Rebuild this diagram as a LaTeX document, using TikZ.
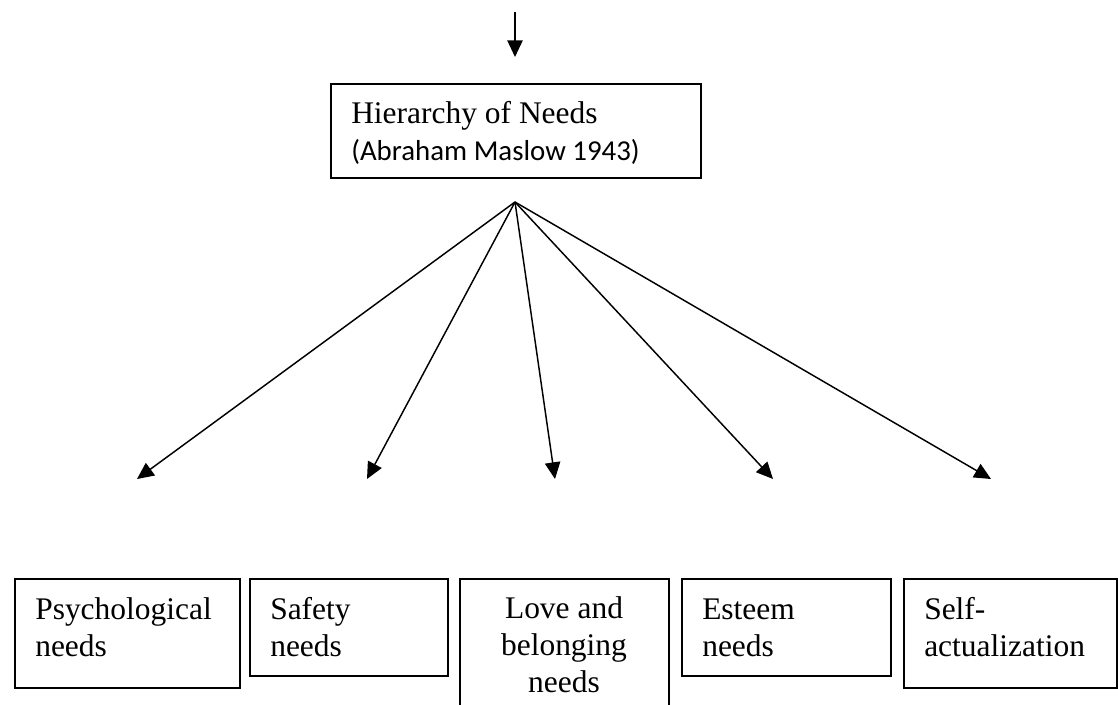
\documentclass[tikz,border=0pt]{standalone}
\usepackage{fontspec}
\setmainfont{Liberation Serif}
\newfontfamily\calfont{Carlito}
\usetikzlibrary{arrows.meta}
\begin{document}
\begin{tikzpicture}[x=0.75pt,y=-0.75pt,
  box/.style={draw,line width=1.3pt,rectangle,inner sep=0pt,anchor=north west},
  lbl/.style={inner sep=0pt,anchor=base west,align=left,font=\fontsize{23.6}{27.75}\selectfont},
  clbl/.style={inner sep=0pt,anchor=base,align=center,font=\fontsize{23.6}{27.75}\selectfont},
  arr/.style={line width=1.1pt,-{Triangle[length=12.5pt,width=11.5pt]}}]
\useasboundingbox (0,0) rectangle (1118,704);
\fill[white] (0,0) rectangle (1118,704);
\clip (0,0) rectangle (1118,704);

% boxes
\node[box,minimum width=370*0.75pt,minimum height=94*0.75pt] (top) at (330,83) {};
\node[box,minimum width=225*0.75pt,minimum height=109*0.75pt] (b1) at (14,578) {};
\node[box,minimum width=198*0.75pt,minimum height=97*0.75pt] (b2) at (249,578) {};
\node[box,minimum width=209*0.75pt,minimum height=160*0.75pt] (b3) at (459,578) {};
\node[box,minimum width=209*0.75pt,minimum height=97*0.75pt] (b4) at (681,578) {};
\node[box,minimum width=213*0.75pt,minimum height=109*0.75pt] (b5) at (903,578) {};

% texts (base anchor = baseline of the last line)
\node[lbl] (ttop) at (351,160) {Hierarchy of Needs\\{\calfont\fontsize{21.65}{27.75}\selectfont (Abraham Maslow 1943)}};
\node[lbl] (t1) at (35,656) {Psychological\\needs};
\node[lbl] (t2) at (270,656) {Safety\\needs};
\node[clbl] (t3) at (564,692) {Love and\\belonging\\needs};
\node[lbl] (t4) at (702,656) {Esteem\\needs};
\node[lbl] (t5) at (924,656) {Self-\\actualization};

% connectors
\coordinate (in) at (515,12);
\coordinate (inTip) at (515,57);
\draw[arr] (in) -- (inTip);
\coordinate (apex) at (515,202);
\coordinate (p1) at (137,479);
\coordinate (p2) at (367,479);
\coordinate (p3) at (555,479);
\coordinate (p4) at (773,479);
\coordinate (p5) at (991,479);
\foreach \p in {p1,p2,p3,p4,p5} \draw[arr] (apex) -- (\p);
\end{tikzpicture}
\end{document}
